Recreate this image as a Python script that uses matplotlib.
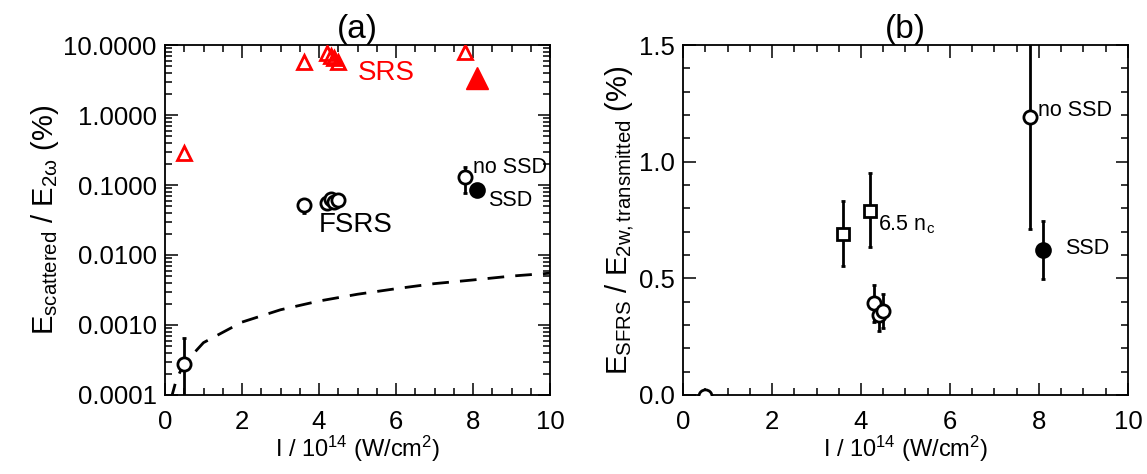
import matplotlib
matplotlib.use("Agg")
import matplotlib.pyplot as plt
from matplotlib.ticker import FixedLocator, FormatStrFormatter, LogLocator, MultipleLocator, NullFormatter
import numpy as np

plt.rcParams['font.family'] = ['Liberation Sans', 'DejaVu Sans']
plt.rcParams['mathtext.fontset'] = 'custom'
plt.rcParams['mathtext.rm'] = 'Liberation Sans'
plt.rcParams['mathtext.it'] = 'Liberation Sans'

# ---- panel (a) data ----
srs_open_x = [0.5, 3.6, 4.2, 4.3, 4.4, 4.5, 7.8]
srs_open_y = [0.29, 5.8, 7.8, 7.0, 6.6, 5.8, 8.0]
srs_fill_x = [8.1]
srs_fill_y = [3.4]

fsrs_open_x = [0.5, 3.6, 4.2, 4.3, 4.4, 4.5, 7.8]
fsrs_open_y = [0.000275, 0.052, 0.055, 0.064, 0.058, 0.061, 0.131]
fsrs_open_lo = [0.00005, 0.040, 0.050, 0.058, 0.052, 0.056, 0.078]
fsrs_open_hi = [0.00066, 0.056, 0.060, 0.070, 0.063, 0.066, 0.18]
fsrs_fill_x = [8.1]
fsrs_fill_y = [0.086]
fsrs_fill_lo = [0.078]
fsrs_fill_hi = [0.092]

curve_x = [0.15, 0.3, 0.5, 1, 2, 3, 4, 5, 6, 7, 8, 9, 10]
curve_y = [0.000085, 0.00017, 0.00028, 0.00056, 0.0011, 0.00165, 0.0022, 0.00275,
           0.0033, 0.0039, 0.0044, 0.005, 0.0055]

# ---- panel (b) data ----
sq_x = [3.6, 4.2]
sq_y = [0.69, 0.79]
sq_lo = [0.553, 0.636]
sq_hi = [0.83, 0.95]

circ_x = [0.5, 4.3, 4.4, 4.5, 7.8]
circ_y = [-0.005, 0.393, 0.343, 0.36, 1.19]
circ_lo = [-0.005, 0.314, 0.276, 0.286, 0.71]
circ_hi = [-0.005, 0.471, 0.40, 0.433, 1.75]

fill_x = [8.1]
fill_y = [0.62]
fill_lo = [0.496]
fill_hi = [0.746]

fig = plt.figure(figsize=(11.47, 4.74), dpi=100)
axa = fig.add_axes([165/1147, 79/474, 385/1147, 350/474])
axb = fig.add_axes([683/1147, 79/474, 445/1147, 350/474])

FS = 18.5

def style(ax):
    for s in ax.spines.values():
        s.set_linewidth(1.3)
    ax.tick_params(which='both', direction='in', top=True, right=True, width=1.1, labelsize=FS)
    ax.tick_params(axis='y', which='both', pad=6)
    ax.tick_params(axis='x', which='both', pad=11)
    ax.tick_params(which='major', length=9)
    ax.tick_params(which='minor', length=5)

# panel a
axa.set_yscale('log')
axa.set_xlim(0, 10)
axa.set_ylim(1e-4, 10)
axa.plot(curve_x, curve_y, ls=(0, (6, 4)), color='black', lw=2)

def errb(ax, x, y, lo, hi, **kw):
    y = np.array(y); lo = np.array(lo); hi = np.array(hi)
    ax.errorbar(x, y, yerr=[y - lo, hi - y], fmt='none', ecolor='black', elinewidth=2,
                capsize=1.5, capthick=2, zorder=2)

errb(axa, fsrs_open_x, fsrs_open_y, fsrs_open_lo, fsrs_open_hi)
errb(axa, fsrs_fill_x, fsrs_fill_y, fsrs_fill_lo, fsrs_fill_hi)
axa.plot(fsrs_open_x, fsrs_open_y, 'o', ms=9.5, mfc='white', mec='black', mew=2, ls='none', zorder=3)
axa.plot(fsrs_fill_x, fsrs_fill_y, 'o', ms=10, mfc='black', mec='black', mew=2, ls='none', zorder=3)
axa.plot(srs_open_x, srs_open_y, '^', ms=9.5, mfc='none', mec='red', mew=2, ls='none', zorder=3)
axa.plot(srs_fill_x, srs_fill_y, '^', ms=16.5, mfc='red', mec='red', mew=1, ls='none', zorder=3)

axa.text(5.0, 4.0, 'SRS', color='red', fontsize=20, va='center', ha='left')
axa.text(4.0, 0.027, 'FSRS', color='black', fontsize=20, va='center', ha='left')
axa.text(8.0, 0.18, 'no SSD', color='black', fontsize=15.5, va='center', ha='left')
axa.text(8.4, 0.061, 'SSD', color='black', fontsize=15.5, va='center', ha='left')

axa.xaxis.set_major_locator(MultipleLocator(2))
axa.xaxis.set_minor_locator(MultipleLocator(0.5))
axa.yaxis.set_major_locator(FixedLocator([1e-4, 1e-3, 1e-2, 1e-1, 1, 10]))
axa.yaxis.set_major_formatter(FormatStrFormatter('%.4f'))
axa.yaxis.set_minor_locator(LogLocator(base=10, subs=np.arange(2, 10)))
axa.yaxis.set_minor_formatter(NullFormatter())
style(axa)
axa.set_title('(a)', fontsize=24, pad=4)
axa.set_xlabel(r'I / 10$^{14}$ (W/cm$^{2}$)', fontsize=17, labelpad=0)
axa.set_ylabel(r'E$_{\mathrm{scattered}}$ / E$_{2\omega}$ (%)', fontsize=21, labelpad=2)

# panel b
axb.set_xlim(0, 10)
axb.set_ylim(0, 1.5)
errb(axb, sq_x, sq_y, sq_lo, sq_hi)
errb(axb, circ_x, circ_y, circ_lo, circ_hi)
errb(axb, fill_x, fill_y, fill_lo, fill_hi)
axb.plot(sq_x, sq_y, 's', ms=9, mfc='white', mec='black', mew=2, ls='none', zorder=3)
axb.plot(circ_x, circ_y, 'o', ms=9.5, mfc='white', mec='black', mew=2, ls='none', zorder=3)
axb.plot(fill_x, fill_y, 'o', ms=10, mfc='black', mec='black', mew=2, ls='none', zorder=3)

axb.text(7.98, 1.22, 'no SSD', fontsize=15.5, va='center', ha='left')
axb.text(4.38, 0.73, r'6.5 n$_{\mathrm{c}}$', fontsize=15.5, va='center', ha='left')
axb.text(8.58, 0.626, 'SSD', fontsize=15.5, va='center', ha='left')

axb.xaxis.set_major_locator(MultipleLocator(2))
axb.xaxis.set_minor_locator(MultipleLocator(0.5))
axb.yaxis.set_major_locator(MultipleLocator(0.5))
axb.yaxis.set_minor_locator(MultipleLocator(0.1))
axb.yaxis.set_major_formatter(FormatStrFormatter('%.1f'))
style(axb)
axb.set_title('(b)', fontsize=24, pad=4)
axb.set_xlabel(r'I / 10$^{14}$ (W/cm$^{2}$)', fontsize=17, labelpad=0)
axb.set_ylabel(r'E$_{\mathrm{SFRS}}$ / E$_{\mathrm{2w,transmitted}}$ (%)', fontsize=21, labelpad=2)

fig.savefig('out.png', dpi=100)
